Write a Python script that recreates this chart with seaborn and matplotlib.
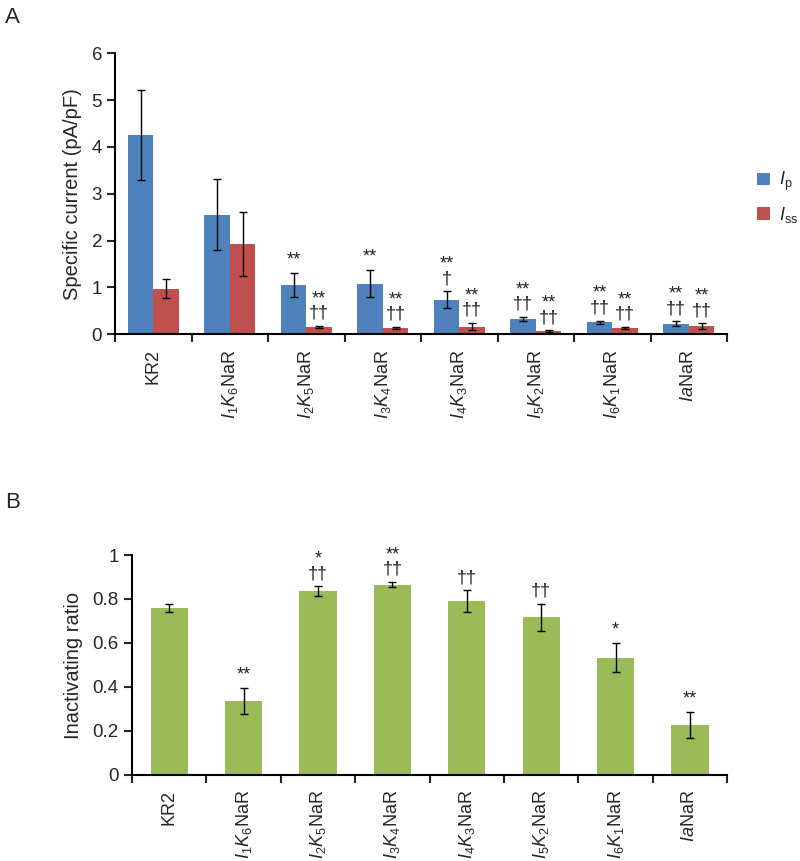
import numpy as np
import pandas as pd
import seaborn as sns
import matplotlib.pyplot as plt
from matplotlib.ticker import FixedLocator

# constructs and tick labels (italic I/K with subscripts)
constructs = ["KR2", "I1K6NaR", "I2K5NaR", "I3K4NaR", "I4K3NaR", "I5K2NaR", "I6K1NaR", "IaNaR"]
tick_labels = ["KR2", r"$I_1K_6$NaR", r"$I_2K_5$NaR", r"$I_3K_4$NaR",
               r"$I_4K_3$NaR", r"$I_5K_2$NaR", r"$I_6K_1$NaR", r"$Ia$NaR"]

# panel A: specific current (pA/pF), mean and SEM
ip_mean = [4.25, 2.55, 1.05, 1.08, 0.73, 0.32, 0.25, 0.22]
ip_err = [0.96, 0.76, 0.26, 0.29, 0.18, 0.05, 0.04, 0.05]
iss_mean = [0.97, 1.92, 0.15, 0.13, 0.16, 0.06, 0.13, 0.17]
iss_err = [0.20, 0.68, 0.02, 0.02, 0.08, 0.02, 0.03, 0.06]
ip_marks = ["", "", "**", "**", "**\n\u2020", "**\n\u2020\u2020", "**\n\u2020\u2020", "**\n\u2020\u2020"]
iss_marks = ["", ""] + ["**\n\u2020\u2020"] * 6

# panel B: inactivating ratio
ratio_mean = [0.76, 0.335, 0.835, 0.865, 0.79, 0.717, 0.533, 0.226]
ratio_err = [0.017, 0.06, 0.022, 0.012, 0.05, 0.062, 0.067, 0.06]
ratio_marks = ["", "**", "*\n\u2020\u2020", "**\n\u2020\u2020", "\u2020\u2020", "\u2020\u2020", "*", "**"]

series_names = [r"$I_\mathrm{p}$", r"$I_\mathrm{ss}$"]
colors = ["#4F81BD", "#C0504D"]
green = "#9BBB59"

sns.set_style("ticks")
plt.rcParams["font.family"] = ["Liberation Sans", "DejaVu Sans"]
plt.rcParams["mathtext.fontset"] = "custom"
plt.rcParams["mathtext.rm"] = "Liberation Sans"
plt.rcParams["mathtext.it"] = "Liberation Sans:italic"

df_a = pd.DataFrame({
    "construct": constructs * 2,
    "current": ip_mean + iss_mean,
    "series": [series_names[0]] * 8 + [series_names[1]] * 8,
})
df_b = pd.DataFrame({"construct": constructs, "ratio": ratio_mean})

fig = plt.figure(figsize=(8, 8.61), dpi=100)
ax_a = fig.add_axes([0.144, 0.612, 0.765, 0.326])
ax_b = fig.add_axes([0.165, 0.0999, 0.744, 0.2555])


def style_axis(ax):
    for s in ["top", "right"]:
        ax.spines[s].set_visible(False)
    for s in ["left", "bottom"]:
        ax.spines[s].set_linewidth(1.5)
        ax.spines[s].set_color("black")
    ax.set_xlim(-0.5, 7.5)
    ax.set_xticks(range(8))
    ax.set_xticklabels(tick_labels, rotation=90, fontsize=13)
    ax.tick_params(axis="x", which="major", length=0, pad=11)
    ax.xaxis.set_minor_locator(FixedLocator(np.arange(-0.5, 8, 1)))
    ax.tick_params(axis="x", which="minor", length=6, width=1.5, direction="out")
    ax.tick_params(axis="y", length=6, width=1.5, direction="out", labelsize=13.5)
    ax.set_xlabel("")


def annotate(ax, xs, tops, marks):
    for x, t, m in zip(xs, tops, marks):
        if m:
            ax.annotate(m, (x, t), xytext=(0, 3), textcoords="offset points",
                        ha="center", va="bottom", fontsize=13, linespacing=0.8,
                        color="#222222")


# panel A
sns.barplot(data=df_a, x="construct", y="current", hue="series", order=constructs,
            palette=colors, width=0.667, errorbar=None, linewidth=0, saturation=1,
            ax=ax_a)
for cont, m, e, marks in zip(ax_a.containers, [ip_mean, iss_mean], [ip_err, iss_err],
                             [ip_marks, iss_marks]):
    xs = [b.get_x() + b.get_width() / 2 for b in cont]
    ax_a.errorbar(xs, m, yerr=e, fmt="none", ecolor="black", elinewidth=1, capsize=3,
                  capthick=1)
    annotate(ax_a, xs, np.array(m) + np.array(e), marks)
ax_a.set_ylim(0, 6)
ax_a.set_yticks(range(7))
ax_a.set_ylabel("Specific current (pA/pF)", fontsize=14.5, labelpad=7)
style_axis(ax_a)
ax_a.legend(loc="upper left", bbox_to_anchor=(1.034, 0.616), frameon=False,
            fontsize=13, handlelength=0.7, handleheight=0.7, handletextpad=0.5,
            labelspacing=0.65, borderpad=0)

# panel B
sns.barplot(data=df_b, x="construct", y="ratio", order=constructs, color=green,
            width=0.5, errorbar=None, linewidth=0, saturation=1, ax=ax_b)
xs_b = [b.get_x() + b.get_width() / 2 for b in ax_b.containers[0]]
ax_b.errorbar(xs_b, ratio_mean, yerr=ratio_err, fmt="none", ecolor="black", elinewidth=1,
              capsize=3, capthick=1)
annotate(ax_b, xs_b, np.array(ratio_mean) + np.array(ratio_err), ratio_marks)
ax_b.set_ylim(0, 1)
ax_b.set_yticks(np.arange(0, 1.01, 0.2))
ax_b.set_yticklabels(["0", "0.2", "0.4", "0.6", "0.8", "1"])
ax_b.set_ylabel("Inactivating ratio", fontsize=14.5, labelpad=7)
style_axis(ax_b)

fig.text(0.006, 0.992, "A", fontsize=16, va="top", ha="left")
fig.text(0.006, 0.428, "B", fontsize=16, va="top", ha="left")

fig.savefig("out.png", dpi=100, facecolor="white")
